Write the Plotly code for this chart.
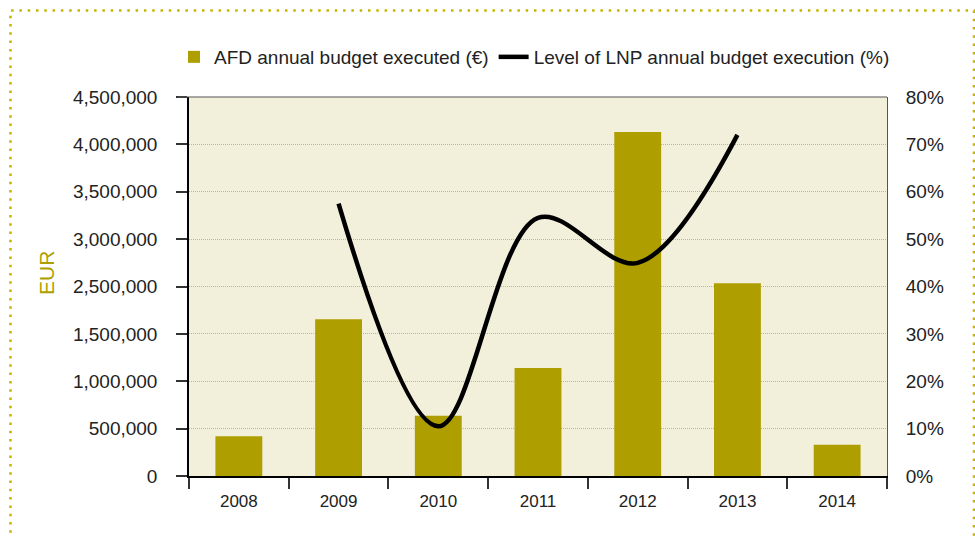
import plotly.graph_objects as go

# Annual data
years = ["2008", "2009", "2010", "2011", "2012", "2013", "2014"]
afd_budget = [420000, 1655000, 635000, 1140000, 3630000, 2035000, 330000]

lnp_years = ["2009", "2010", "2011", "2012", "2013"]
lnp_execution = [0.575, 0.105, 0.545, 0.45, 0.72]

# Left axis tick values and their printed labels
eur_tickvals = [0, 500000, 1000000, 1500000, 2000000, 2500000, 3000000, 3500000, 4000000]
eur_ticktext = ["0", "500,000", "1,000,000", "1,500,000", "2,500,000",
                "3,000,000", "3,500,000", "4,000,000", "4,500,000"]

OLIVE = "#ae9e00"
PLOT_BG = "#f2efda"
GRID = "#cdbb55"
TEXT = "#222222"
FONT = "Liberation Sans"

W, H = 975, 538
ML, MR, MT, MB = 189, 88, 97, 62
PW, PH = W - ML - MR, H - MT - MB


def px_x(px):
    return (px - ML) / PW


def px_y(py):
    return (H - MB - py) / PH


fig = go.Figure()

fig.add_trace(go.Bar(
    x=years, y=afd_budget, name="AFD annual budget executed (€)",
    marker=dict(color=OLIVE, line=dict(width=0)), width=0.47,
    yaxis="y",
))

fig.add_trace(go.Scatter(
    x=lnp_years, y=lnp_execution, name="Level of LNP annual budget execution (%)",
    mode="lines", line=dict(color="black", width=4.5, shape="spline", smoothing=1),
    yaxis="y2",
))

fig.update_layout(
    width=W, height=H,
    margin=dict(l=ML, r=MR, t=MT, b=MB, autoexpand=False),
    paper_bgcolor="white",
    plot_bgcolor=PLOT_BG,
    font=dict(family=FONT, size=19, color=TEXT),
    showlegend=True,
    legend=dict(
        orientation="h", x=px_x(174), xanchor="left", y=px_y(57), yanchor="middle",
        font=dict(family=FONT, size=19, color=TEXT),
        bgcolor="rgba(0,0,0,0)", itemwidth=30, traceorder="normal",
    ),
    xaxis=dict(
        type="category", range=[-0.5, 6.5],
        showline=True, linecolor="black", linewidth=1.5,
        ticks="outside", tickson="boundaries", ticklen=11, tickwidth=1.5,
        tickcolor="#333333", showgrid=False, zeroline=False,
        tickfont=dict(family=FONT, size=17, color=TEXT),
        ticklabelstandoff=9,
    ),
    yaxis=dict(
        range=[0, 4000000], tickvals=eur_tickvals, ticktext=eur_ticktext,
        showline=True, linecolor="black", linewidth=1.5,
        ticks="outside", ticklen=11, tickwidth=1.5, tickcolor="#333333",
        showgrid=True, gridcolor=GRID, gridwidth=1, griddash="1px,1px",
        zeroline=False, ticklabelstandoff=15,
        tickfont=dict(family=FONT, size=19, color=TEXT),
    ),
    yaxis2=dict(
        range=[0, 0.8], dtick=0.1, tickformat=".0%",
        overlaying="y", side="right",
        showline=True, linecolor="#555555", linewidth=1,
        ticks="", showgrid=False, zeroline=False, ticklabelstandoff=14,
        tickfont=dict(family=FONT, size=19, color=TEXT),
    ),
    shapes=[
        # top frame line, starting at the outer end of the left tick marks
        dict(type="line", xref="paper", yref="paper",
             x0=px_x(178), x1=1, y0=1, y1=1,
             line=dict(color="#555555", width=1)),
        # dotted panel border
        dict(type="rect", xref="paper", yref="paper",
             x0=px_x(10.5), x1=px_x(974), y0=px_y(560), y1=px_y(10.5),
             line=dict(color="#c8b400", width=2.5, dash="2.5px,5.8px"),
             fillcolor="rgba(0,0,0,0)", layer="above"),
    ],
)

# EUR axis title, rotated
fig.add_annotation(
    text="EUR", xref="paper", yref="paper", x=px_x(46), y=px_y(273),
    showarrow=False, textangle=-90, xanchor="center", yanchor="middle",
    font=dict(family=FONT, size=21, color=OLIVE),
)

fig.write_html("out.html")
